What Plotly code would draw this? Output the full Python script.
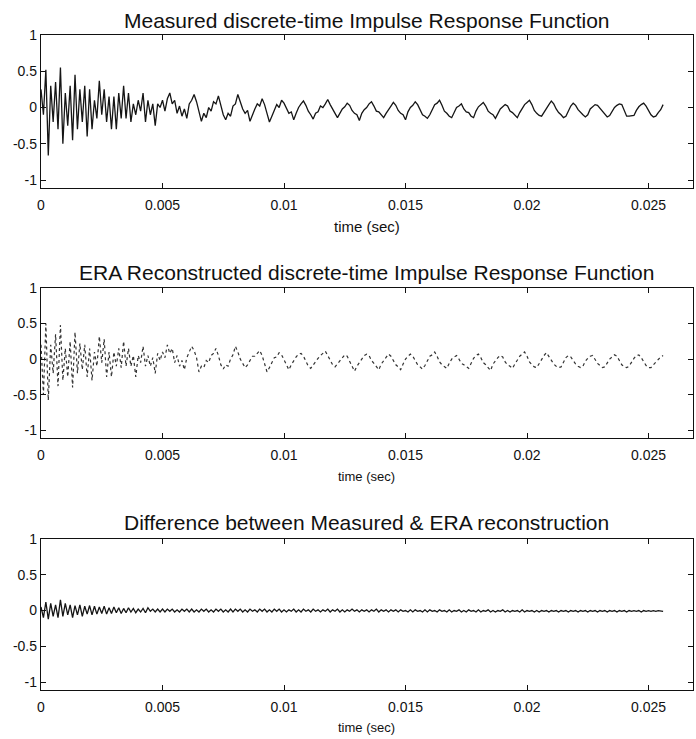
import numpy as np
import plotly.graph_objects as go

# ---------------- data ----------------
dt = 1e-4  # sample interval (s)

measured = [
    0.25, -0.10, 0.52, -0.66, 0.30, -0.20, 0.35, -0.30, 0.55, -0.50,
    0.20, -0.25, 0.30, -0.45, 0.45, -0.30, 0.25, -0.20, 0.30, -0.40,
    0.25, -0.30, 0.10, -0.15, 0.37, -0.10, 0.25, -0.20, 0.15, -0.30,
    0.15, -0.30, 0.20, -0.15, 0.30, -0.15, 0.20, -0.20, 0.05, -0.10,
    0.10, -0.05, 0.20, -0.20, 0.10, -0.10, 0.05, -0.25, 0.05, 0.00,
    0.10, -0.05, 0.12, 0.20, 0.05, 0.10, -0.08, 0.02, -0.12, -0.02,
    -0.15, 0.05, 0.10, 0.18, 0.08, -0.05, -0.19, -0.08, -0.14, 0.00,
    -0.05, 0.08, 0.05, 0.16, 0.02, -0.10, -0.17, -0.08, -0.12, 0.02,
    0.05, 0.18, 0.08, -0.02, -0.08, -0.04, -0.19, -0.10, -0.02, 0.05,
    0.02, 0.12, 0.04, -0.08, -0.20, -0.12, -0.05, 0.04, 0.00, 0.10,
    0.06, -0.02, -0.08, -0.06, -0.17, -0.08, 0.00, 0.05, 0.09, 0.03,
    -0.05, -0.10, -0.16, -0.08, -0.06, 0.02, 0.00, 0.05, 0.11, 0.04,
    -0.03, -0.08, -0.14, -0.07, -0.02, 0.01, 0.06, 0.03, -0.04, -0.08,
    -0.10, -0.18, -0.08, -0.03, 0.00, 0.05, 0.08, 0.02, -0.05, -0.06,
    -0.10, -0.14, -0.08, -0.02, 0.02, 0.07, 0.03, -0.04, -0.08, -0.10,
    -0.17, -0.06, 0.00, 0.03, 0.08, 0.04, -0.04, -0.10, -0.12, -0.15,
    -0.10, -0.02, 0.04, 0.06, 0.10, 0.03, -0.05, -0.08, -0.12, -0.14,
    -0.06, 0.00, 0.02, 0.05, -0.02, -0.06, -0.07, -0.12, -0.14, -0.05,
    0.01, 0.04, 0.07, 0.02, -0.05, -0.08, -0.10, -0.15, -0.08, -0.02,
    0.01, 0.04, 0.02, -0.05, -0.07, -0.10, -0.14, -0.07, -0.02, 0.04,
    0.07, 0.10, 0.04, -0.04, -0.08, -0.11, -0.12, -0.06, 0.00, 0.04,
    0.09, 0.05, -0.02, -0.07, -0.10, -0.14, -0.12, -0.04, 0.02, 0.06,
    0.03, -0.03, -0.07, -0.10, -0.13, -0.10, -0.02, 0.01, 0.04, 0.03,
    -0.01, -0.06, -0.09, -0.13, -0.11, -0.05, 0.00, 0.03, 0.05, 0.04,
    -0.04, -0.12, -0.12, -0.12, -0.11, -0.04, 0.01, 0.04, 0.06, 0.02,
    -0.05, -0.10, -0.13, -0.12, -0.07, -0.03, 0.04,
]

era = [
    0.20, -0.50, 0.50, -0.58, 0.20, -0.20, 0.35, -0.38, 0.48, -0.30,
    0.15, -0.25, 0.25, -0.40, 0.38, -0.20, 0.22, -0.15, 0.20, -0.25,
    0.15, -0.30, 0.10, -0.10, 0.32, -0.05, 0.28, -0.25, 0.10, -0.25,
    0.10, -0.10, 0.15, -0.12, 0.25, -0.10, 0.15, -0.10, 0.05, -0.25,
    0.05, -0.05, 0.18, -0.10, 0.05, -0.10, 0.02, -0.20, 0.08, -0.02,
    0.10, 0.02, 0.20, 0.08, 0.15, -0.05, 0.05, -0.10, -0.02, -0.15,
    0.02, 0.10, 0.18, 0.12, 0.02, -0.18, -0.10, -0.12, -0.02, -0.05,
    0.05, 0.08, 0.15, 0.05, -0.08, -0.14, -0.08, -0.10, 0.00, 0.06,
    0.18, 0.10, 0.00, -0.06, -0.12, -0.08, -0.02, 0.04, 0.04, 0.08,
    0.12, 0.05, -0.06, -0.18, -0.12, -0.05, 0.02, 0.03, 0.09, 0.06,
    -0.01, -0.07, -0.15, -0.08, -0.02, 0.03, 0.07, 0.08, 0.04, -0.04,
    -0.10, -0.13, -0.08, -0.03, 0.01, 0.05, 0.08, 0.11, 0.05, -0.02,
    -0.08, -0.11, -0.07, -0.02, 0.02, 0.06, 0.04, -0.03, -0.08, -0.17,
    -0.10, -0.04, 0.00, 0.05, 0.07, 0.05, -0.02, -0.06, -0.10, -0.15,
    -0.07, -0.02, 0.02, 0.07, 0.04, -0.03, -0.08, -0.11, -0.15, -0.07,
    0.00, 0.04, 0.07, 0.04, -0.03, -0.08, -0.11, -0.14, -0.09, -0.02,
    0.04, 0.06, 0.10, 0.04, -0.04, -0.08, -0.10, -0.13, -0.06, 0.00,
    0.03, 0.05, 0.00, -0.06, -0.08, -0.11, -0.13, -0.06, 0.01, 0.05,
    0.07, 0.02, -0.05, -0.08, -0.12, -0.16, -0.07, -0.02, 0.02, 0.05,
    0.03, -0.04, -0.08, -0.10, -0.13, -0.07, -0.01, 0.04, 0.07, 0.10,
    0.04, -0.04, -0.08, -0.11, -0.12, -0.06, 0.00, 0.05, 0.09, 0.04,
    -0.02, -0.07, -0.10, -0.12, -0.11, -0.04, 0.02, 0.05, 0.03, -0.02,
    -0.07, -0.10, -0.12, -0.10, -0.03, 0.01, 0.04, 0.05, 0.00, -0.06,
    -0.09, -0.12, -0.11, -0.05, 0.00, 0.03, 0.06, 0.04, -0.03, -0.08,
    -0.11, -0.12, -0.10, -0.04, 0.01, 0.05, 0.06, 0.02, -0.04, -0.09,
    -0.12, -0.12, -0.08, -0.04, 0.00, 0.03, 0.05,
]

difference = [
    0.05, -0.10, 0.12, -0.12, 0.10, -0.08, 0.08, -0.10, 0.15, -0.08,
    0.10, -0.06, 0.08, -0.10, 0.07, -0.06, 0.08, -0.08, 0.06, -0.05,
    0.07, -0.06, 0.06, -0.05, 0.05, -0.04, 0.06, -0.05, 0.04, -0.04,
    0.05, -0.03, 0.04, -0.04, 0.03, -0.03, 0.04, -0.02, 0.03, -0.03,
    0.02, -0.02, 0.03, -0.03, 0.04, -0.01, 0.02, -0.02, 0.02, -0.02,
    0.02, -0.02, 0.02, -0.01, 0.02, -0.02, 0.01, -0.02, 0.02, -0.01,
    0.02, -0.02, 0.02, -0.02, 0.01, -0.02, 0.02, -0.01, 0.02, -0.02,
    0.01, -0.02, 0.02, -0.01, 0.02, -0.02, 0.01, -0.02, 0.02, -0.02,
    0.02, -0.01, 0.02, -0.02, 0.01, -0.02, 0.02, -0.01, 0.01, -0.02,
    0.02, -0.01, 0.02, -0.02, 0.01, -0.02, 0.02, -0.01, 0.02, -0.02,
    0.01, -0.02, 0.01, -0.01, 0.02, -0.02, 0.01, -0.02, 0.02, -0.01,
    0.01, -0.02, 0.02, -0.01, 0.01, -0.02, 0.01, -0.01, 0.02, -0.02,
    0.01, -0.01, 0.02, -0.02, 0.01, -0.02, 0.01, -0.01, 0.02, -0.01,
    0.01, -0.02, 0.01, -0.01, 0.01, -0.02, 0.01, -0.01, 0.02, -0.02,
    0.01, -0.01, 0.01, -0.02, 0.01, -0.01, 0.01, -0.02, 0.01, -0.01,
    0.00, -0.02, 0.01, -0.02, 0.01, -0.01, 0.00, -0.02, 0.01, -0.02,
    0.01, -0.01, 0.00, -0.02, 0.01, -0.01, 0.00, -0.02, 0.01, -0.02,
    0.00, -0.01, 0.01, -0.02, 0.00, -0.02, 0.01, -0.01, 0.00, -0.02,
    0.01, -0.02, 0.00, -0.01, 0.01, -0.02, 0.00, -0.02, 0.00, -0.01,
    0.01, -0.02, 0.00, -0.02, 0.00, -0.01, 0.00, -0.02, 0.01, -0.02,
    0.00, -0.01, 0.00, -0.02, 0.00, -0.02, 0.00, -0.01, 0.00, -0.02,
    0.00, -0.01, 0.00, -0.02, 0.00, -0.01, 0.00, -0.02, 0.00, -0.01,
    0.00, -0.02, 0.00, -0.01, 0.00, -0.02, 0.00, -0.01, 0.00, -0.02,
    0.00, -0.01, 0.00, -0.02, 0.00, -0.01, 0.00, -0.02, 0.00, -0.01,
    0.00, -0.02, 0.00, -0.01, 0.00, -0.01, 0.00, -0.02, 0.00, -0.01,
    0.00, -0.01, 0.00, -0.01, 0.00, -0.01, -0.01,
]

titles = [
    "Measured discrete-time Impulse Response Function",
    "ERA Reconstructed discrete-time Impulse Response Function",
    "Difference between Measured & ERA reconstruction",
]
x_label = "time (sec)"
x_ticks = [0, 0.005, 0.01, 0.015, 0.02, 0.025]
x_ticktext = ["0", "0.005", "0.01", "0.015", "0.02", "0.025"]
y_ticks = [-1, -0.5, 0, 0.5, 1]
y_ticktext = ["-1", "-0.5", "0", "0.5", "1"]

# ---------------- figure ----------------
W, H = 696, 739
t = np.arange(len(measured)) * dt

# panel geometry in pixels (top, bottom)
panels = [(35, 188), (288, 438), (539, 690)]
x_left, x_right = 41, 693
title_y = [20, 272, 522]
xlabel_y = [226, 476, 727]
xlabel_size = [15, 13, 13]

fig = go.Figure()
series = [measured, era, difference]
styles = [
    dict(color="#151515", width=1.3, dash="solid"),
    dict(color="#333333", width=1.2, dash="dot"),
    dict(color="#151515", width=1.3, dash="solid"),
]

font_main = "Liberation Sans, Arial, sans-serif"

for k, (ys, st) in enumerate(zip(series, styles)):
    xa = "x" if k == 0 else f"x{k+1}"
    ya = "y" if k == 0 else f"y{k+1}"
    fig.add_trace(go.Scatter(x=t, y=ys, mode="lines", line=st,
                             xaxis=xa, yaxis=ya, showlegend=False,
                             hoverinfo="skip"))
    top, bot = panels[k]
    axis_common = dict(showline=True, linecolor="#111", linewidth=1.3,
                       mirror="allticks", ticks="inside", ticklen=5,
                       tickcolor="#111", tickwidth=1, showgrid=False,
                       zeroline=False, automargin=False,
                       tickfont=dict(family=font_main, size=14, color="#111"))
    xname = "xaxis" if k == 0 else f"xaxis{k+1}"
    yname = "yaxis" if k == 0 else f"yaxis{k+1}"
    fig.update_layout(**{
        xname: dict(domain=[x_left / W, x_right / W], range=[0, 0.02683],
                    tickvals=x_ticks, ticktext=x_ticktext,
                    ticklabelstandoff=4,
                    anchor=ya, **axis_common),
        yname: dict(domain=[1 - bot / H, 1 - top / H], range=[-1.11, 1.0],
                    tickvals=y_ticks, ticktext=y_ticktext,
                    anchor=xa, **axis_common),
    })
    fig.add_annotation(text=titles[k], x=(x_left + x_right) / 2 / W,
                       y=1 - title_y[k] / H, xref="paper", yref="paper",
                       showarrow=False, xanchor="center", yanchor="middle",
                       font=dict(family=font_main, size=21, color="#111"))
    fig.add_annotation(text=x_label, x=(x_left + x_right) / 2 / W,
                       y=1 - xlabel_y[k] / H, xref="paper", yref="paper",
                       showarrow=False, xanchor="center", yanchor="middle",
                       font=dict(family=font_main, size=xlabel_size[k],
                                 color="#111"))

fig.update_layout(width=W, height=H, margin=dict(l=0, r=0, t=0, b=0),
                  paper_bgcolor="white", plot_bgcolor="white")

fig.write_html(
    "out.html",
    config={"displayModeBar": False},
    post_script="document.body.style.margin='0px';"
                "document.body.style.overflow='hidden';",
)
